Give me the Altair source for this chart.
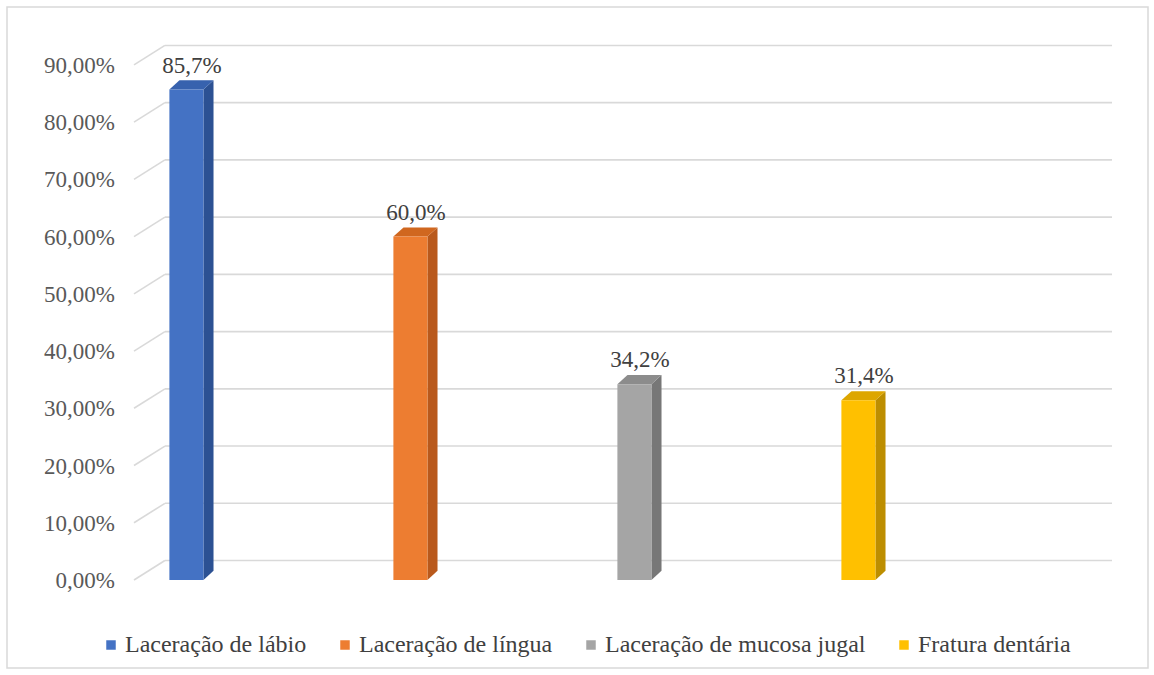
import altair as alt
import pandas as pd

# ---- data ----
categories = ["Laceração de lábio", "Laceração de língua",
              "Laceração de mucosa jugal", "Fratura dentária"]
values = [85.7, 60.0, 34.2, 31.4]
value_labels = ["85,7%", "60,0%", "34,2%", "31,4%"]
front_colors = ["#4472C4", "#ED7D31", "#A5A5A5", "#FFC000"]
side_colors = ["#2C5193", "#B9591C", "#777777", "#BD8E00"]
top_colors = ["#3762AE", "#D0671F", "#8C8C8C", "#DDA600"]
y_ticks = [0, 10, 20, 30, 40, 50, 60, 70, 80, 90]
y_tick_labels = ["0,00%", "10,00%", "20,00%", "30,00%", "40,00%",
                 "50,00%", "60,00%", "70,00%", "80,00%", "90,00%"]

# ---- style constants (scale units) ----
HW = 0.076      # half bar width (category units)
DX = 0.045      # depth shift right (category units)
DZ = 1.6        # depth shift up (% units)
BACK = 3.4      # back wall shift up (% units)
X0, X1 = -0.234, 4.141
GX0, GX1 = -0.096, 4.132

FONT = "Liberation Serif"

idx = list(range(len(categories)))
bars = pd.DataFrame({"cat": categories, "i": idx, "v": values,
                     "lab": value_labels})
bars["x0"] = bars["i"] - HW
bars["x1"] = bars["i"] + HW
bars["lx"] = bars["i"] + 0.025

side_rows = []
top_rows = []
for i, c, v, sc, tc in zip(idx, categories, values, side_colors, top_colors):
    side_rows.append({"cat": c, "x": i + HW, "y": 0.0, "y2": v, "col": sc})
    side_rows.append({"cat": c, "x": i + HW + DX, "y": DZ, "y2": v + DZ, "col": sc})
    top_rows.append({"cat": c, "y": v, "x": i - HW, "x2": i + HW, "col": tc})
    top_rows.append({"cat": c, "y": v + DZ, "x": i - HW + DX, "x2": i + HW + DX, "col": tc})
side = pd.DataFrame(side_rows)
top = pd.DataFrame(top_rows)

grid = pd.DataFrame({"v": y_ticks, "lab": y_tick_labels})
grid["vb"] = grid["v"] + BACK
grid["gx0"] = GX0
grid["gx1"] = GX1
grid["x0"] = X0

xs = alt.Scale(domain=[X0, X1], nice=False, zero=False)
ys = alt.Scale(domain=[0, 94], nice=False, zero=False)

border = alt.Chart(pd.DataFrame({"a": [0]})).mark_rect(
    fill="white", stroke="#D9D9D9", strokeWidth=1.5
).encode(x=alt.value(-127), x2=alt.value(1014), y=alt.value(-35), y2=alt.value(626))

gridlines = alt.Chart(grid).mark_rule(color="#D9D9D9", strokeWidth=1.6).encode(
    x=alt.X("gx0:Q", scale=xs, axis=None),
    x2="gx1:Q",
    y=alt.Y("vb:Q", scale=ys, axis=None),
)

diag = alt.Chart(grid).mark_rule(color="#D9D9D9", strokeWidth=1.6).encode(
    x=alt.X("x0:Q", scale=xs, axis=None),
    x2="gx0:Q",
    y=alt.Y("v:Q", scale=ys, axis=None),
    y2="vb:Q",
)

ylabels = alt.Chart(grid).mark_text(
    font=FONT, fontSize=23, color="#595959", align="right",
    baseline="middle", dx=-19, dy=1
).encode(
    x=alt.X("x0:Q", scale=xs, axis=None),
    y=alt.Y("v:Q", scale=ys, axis=None),
    text="lab:N",
)

sides = alt.Chart(side).mark_area(opacity=1).encode(
    x=alt.X("x:Q", scale=xs, axis=None),
    y=alt.Y("y:Q", scale=ys, axis=None),
    y2="y2:Q",
    detail="cat:N",
    color=alt.Color("col:N", scale=None, legend=None),
)

tops = alt.Chart(top).mark_area(orient="horizontal", opacity=1).encode(
    y=alt.Y("y:Q", scale=ys, axis=None),
    x=alt.X("x:Q", scale=xs, axis=None),
    x2="x2:Q",
    detail="cat:N",
    color=alt.Color("col:N", scale=None, legend=None),
)

fronts = alt.Chart(bars).mark_rect().encode(
    x=alt.X("x0:Q", scale=xs, axis=None),
    x2="x1:Q",
    y=alt.Y("v:Q", scale=ys, axis=None),
    y2=alt.datum(0),
    color=alt.Color("cat:N", sort=categories,
                    scale=alt.Scale(domain=categories, range=front_colors),
                    legend=alt.Legend(
                        title=None, orient="none", direction="horizontal",
                        legendX=-35, legendY=591,
                        symbolType="square", symbolSize=90,
                        symbolStrokeWidth=0, labelFont=FONT,
                        labelFontSize=24, labelColor="#404040",
                        labelOffset=2, columnPadding=26,
                        labelLimit=400)),
)

labels = alt.Chart(bars).mark_text(
    font=FONT, fontSize=23, color="#404040", dy=-24, baseline="middle"
).encode(
    x=alt.X("lx:Q", scale=xs, axis=None),
    y=alt.Y("v:Q", scale=ys, axis=None),
    text="lab:N",
)

chart = alt.layer(border, gridlines, diag, ylabels, sides, tops, fronts, labels).resolve_scale(
    color="independent"
).properties(
    width=980, height=538,
    autosize=alt.AutoSizeParams(type="none"),
    padding={"left": 134, "top": 42, "right": 40, "bottom": 95},
    background="white",
).configure_view(stroke=None).configure_legend(
    labelFont=FONT, labelFontSize=24, labelColor="#404040"
)

chart.save("out.html", embed_options={"renderer": "svg", "actions": False})
